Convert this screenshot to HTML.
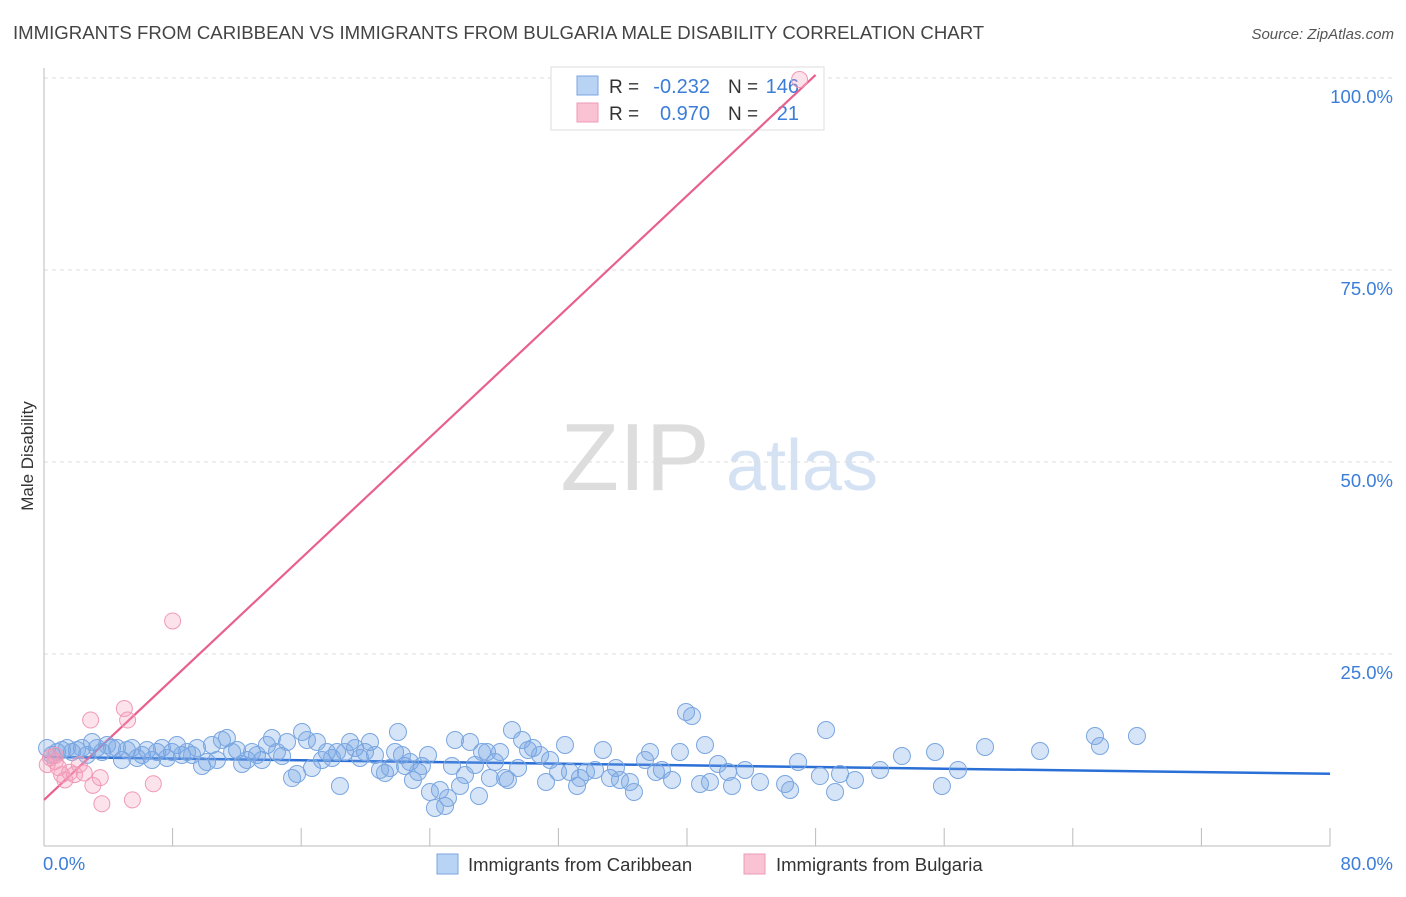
<!DOCTYPE html>
<html><head><meta charset="utf-8"><style>
body{margin:0;background:#fff;font-family:"Liberation Sans",sans-serif;}
svg text{font-family:"Liberation Sans",sans-serif;}
</style></head><body>
<svg id="chart" width="1406" height="892" xmlns="http://www.w3.org/2000/svg">
<text x="13" y="39" font-size="18.6" fill="#444">IMMIGRANTS FROM CARIBBEAN VS IMMIGRANTS FROM BULGARIA MALE DISABILITY CORRELATION CHART</text>
<text x="1394" y="39" font-size="15" fill="#555" text-anchor="end" font-style="italic">Source: ZipAtlas.com</text>
<text transform="translate(33,456) rotate(-90)" font-size="17" fill="#333" text-anchor="middle">Male Disability</text>
<g>
<text x="635" y="490" font-size="96" fill="#ddd" text-anchor="middle" font-family="Liberation Serif, serif">ZIP</text>
<text x="802" y="490" font-size="72" fill="#d4e2f4" text-anchor="middle">atlas</text>
</g>
<g id="grid"></g><g id="axes"></g>
<g>
<rect x="551" y="67" width="273" height="63" fill="#fff" stroke="#ddd"/>
<rect x="577" y="76" width="21" height="19" fill="#b9d3f5" stroke="#7aa6e0"/>
<rect x="577" y="103" width="21" height="19" fill="#f9c3d3" stroke="#f09ab5"/>
<text x="609" y="93" font-size="19" fill="#333">R =</text>
<text x="710" y="93" font-size="20" fill="#3b7dd8" text-anchor="end">-0.232</text>
<text x="728" y="93" font-size="19" fill="#333">N =</text>
<text x="799" y="93" font-size="20" fill="#3b7dd8" text-anchor="end">146</text>
<text x="609" y="120" font-size="19" fill="#333">R =</text>
<text x="710" y="120" font-size="20" fill="#3b7dd8" text-anchor="end">0.970</text>
<text x="728" y="120" font-size="19" fill="#333">N =</text>
<text x="799" y="120" font-size="20" fill="#3b7dd8" text-anchor="end">21</text>
</g>
<g id="lines"></g><g id="points"></g>
<g>
<rect x="437" y="854" width="21" height="20" fill="#b9d3f5" stroke="#7aa6e0"/>
<text x="468" y="871" font-size="18.5" fill="#333">Immigrants from Caribbean</text>
<rect x="744" y="854" width="21" height="20" fill="#f9c3d3" stroke="#f09ab5"/>
<text x="776" y="871" font-size="18.5" fill="#333">Immigrants from Bulgaria</text>
</g>
</svg>
<script>
const yTicks=[25,50,75,100];
const yTickLabels=["25.0%","50.0%","75.0%","100.0%"];
const xTicks=[0,8,16,24,32,40,48,56,64,72,80];
const xEndLabels=["0.0%","80.0%"];
const blueTrend=[[0,11.6],[80,9.4]];
const pinkTrend=[[0,6.0],[48,100.4]];
const bluePx=[[47,748],[52,755],[57,752],[62,750],[67,748],[72,752],[77,750],[82,748],[87,755],[92,742],[97,748],[102,752],[107,745],[112,748],[117,748],[122,760],[127,750],[132,748],[137,758],[142,755],[147,750],[152,760],[157,752],[162,748],[167,758],[172,752],[177,745],[182,755],[187,752],[192,755],[197,748],[202,766],[207,762],[212,745],[217,760],[222,740],[227,738],[232,752],[237,750],[242,764],[247,760],[252,752],[257,755],[262,760],[267,745],[272,738],[277,752],[282,756],[287,742],[292,778],[297,774],[302,732],[307,740],[312,768],[317,742],[322,760],[327,752],[332,758],[337,752],[340,786],[345,752],[350,742],[355,748],[360,758],[365,752],[370,742],[375,755],[380,770],[385,773],[390,768],[395,752],[398,732],[402,755],[405,766],[410,762],[413,780],[418,772],[422,766],[428,755],[430,792],[435,808],[440,790],[445,806],[448,798],[452,766],[455,740],[460,786],[465,775],[470,742],[475,765],[479,796],[482,752],[487,752],[490,778],[495,762],[500,752],[505,778],[508,780],[512,730],[518,768],[522,740],[528,750],[533,748],[540,755],[546,782],[550,760],[558,772],[565,745],[570,772],[577,786],[580,778],[586,772],[595,770],[603,750],[610,778],[616,768],[620,780],[630,782],[634,792],[645,760],[650,752],[656,772],[662,770],[672,780],[680,752],[686,712],[692,716],[700,784],[705,745],[710,782],[718,764],[728,772],[732,786],[745,770],[760,782],[785,784],[790,790],[798,762],[820,776],[826,730],[835,792],[840,774],[855,780],[880,770],[902,756],[935,752],[942,786],[958,770],[985,747],[1040,751],[1095,736],[1100,746],[1137,736]];
const blueX=bluePx.map(p=>+((p[0]-44)/16.075).toFixed(2));
const blueY=bluePx.map(p=>+((846-p[1])/7.68).toFixed(2));
const pinkX=[0.2,0.4,0.7,0.9,1.1,1.3,1.6,1.9,2.2,2.5,2.9,3.04,3.5,3.6,5.0,5.2,5.5,6.8,8.0,0.7,47.0];
const pinkY=[10.6,11.5,11.0,10.2,9.3,8.6,9.6,9.3,10.6,9.5,16.4,7.9,8.9,5.5,17.9,16.4,6.0,8.1,29.3,11.8,99.8];
const X=v=>44+v*16.075, Y=v=>846-v*7.68;
const NS="http://www.w3.org/2000/svg";
function mk(t,a,p){const e=document.createElementNS(NS,t);for(const k in a)e.setAttribute(k,a[k]);p.appendChild(e);return e;}
const grid=document.getElementById('grid'),axes=document.getElementById('axes');
yTicks.forEach((v,i)=>{
 const l=mk('line',{x1:44,x2:1394,y1:Y(v),y2:Y(v),stroke:'#ddd','stroke-dasharray':'4,4'},grid);
 
 
 const t=mk('text',{x:1393,y:Y(v)+25,'font-size':18.5,fill:'#3b7dd8','text-anchor':'end'},axes);
 t.textContent=yTickLabels[i];
 
 
});
const ax=mk('line',{x1:44,x2:1330,y1:846,y2:846,stroke:'#bbb'},axes);


const ay=mk('line',{x1:44,x2:44,y1:68,y2:846,stroke:'#bbb'},axes);


xTicks.forEach(v=>{
 const l=mk('line',{x1:X(v),x2:X(v),y1:828,y2:846,stroke:'#bbb'},axes);
 
 
});
[[0,'start'],[80,'end']].forEach((d,i)=>{
 const t=mk('text',{x:X(d[0])+(i?63:0)-(i?0:1),y:870,'font-size':18.5,fill:'#3b7dd8','text-anchor':d[1]},axes);
 t.textContent=xEndLabels[i];
 
 
});
const pts=document.getElementById('points');
blueX.forEach((x,i)=>{
 const c=mk('circle',{cx:X(x),cy:Y(blueY[i]),r:8.5,fill:'rgba(120,165,230,0.3)',stroke:'#7aa6e0','stroke-width':1},pts);
 
 
});
pinkX.forEach((x,i)=>{
 const c=mk('circle',{cx:X(x),cy:Y(pinkY[i]),r:8,fill:'rgba(245,160,190,0.3)',stroke:'#f09ab5','stroke-width':1},pts);
 
 
});
const lines=document.getElementById('lines');
const bl=mk('line',{x1:X(blueTrend[0][0]),y1:Y(blueTrend[0][1]),x2:X(blueTrend[1][0]),y2:Y(blueTrend[1][1]),stroke:'#2a6fd6','stroke-width':2.5},lines);


const pl=mk('line',{x1:X(pinkTrend[0][0]),y1:Y(pinkTrend[0][1]),x2:X(pinkTrend[1][0]),y2:Y(pinkTrend[1][1]),stroke:'#e8608e','stroke-width':2.2},lines);


</script>
</body></html>
